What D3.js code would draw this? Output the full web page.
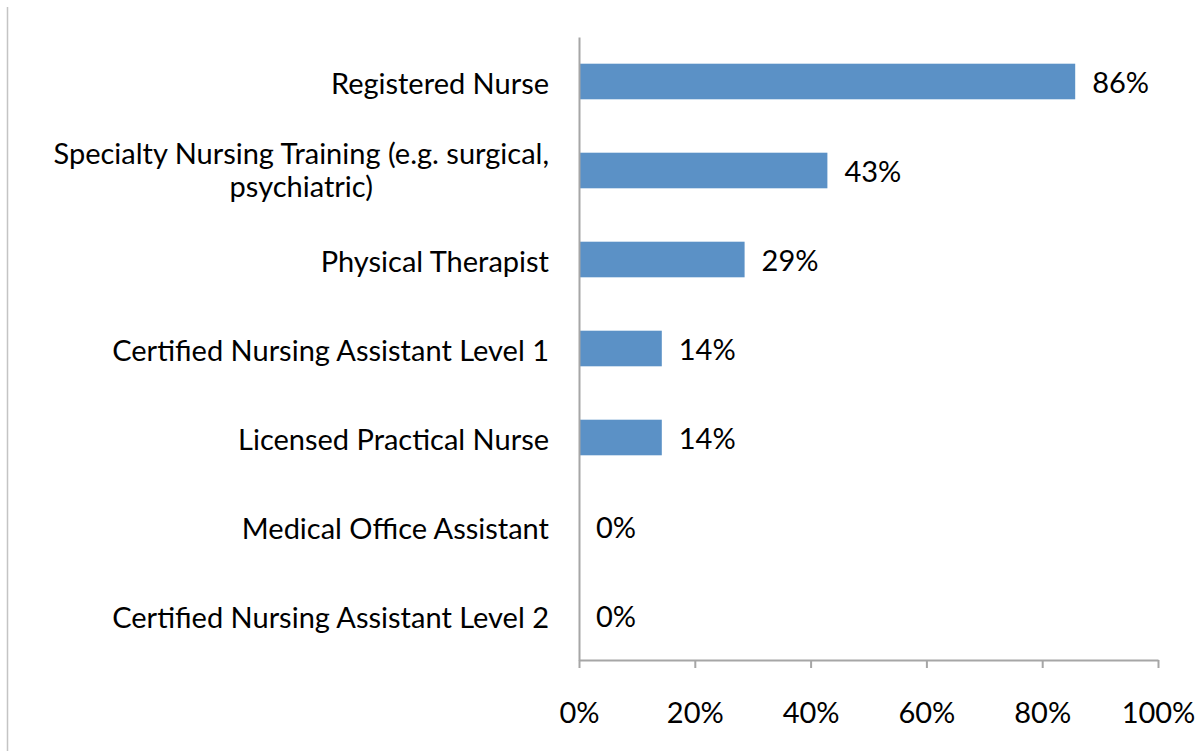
<!DOCTYPE html>
<html>
<head>
<meta charset="utf-8">
<script src="https://cdn.jsdelivr.net/npm/d3@7"></script>
<style>
  body { margin: 0; background: #fff; }
  svg { display: block; }
  text { font-family: Lato, "Open Sans", sans-serif; fill: #000; }
</style>
</head>
<body>
<svg id="chart"></svg>
<script>
// categories top to bottom, values are share of respondents (n = 7)
const categories = [
  "Registered Nurse",
  "Specialty Nursing Training (e.g. surgical,|psychiatric)",
  "Physical Therapist",
  "Certified Nursing Assistant Level 1",
  "Licensed Practical Nurse",
  "Medical Office Assistant",
  "Certified Nursing Assistant Level 2"
];
const values = [85.7, 42.9, 28.6, 14.3, 14.3, 0, 0];
const xTicks = [0, 20, 40, 60, 80, 100];

const W = 1198, H = 751;
const margin = { top: 37, right: 40, bottom: 91, left: 579 };
const fs = "29px";

const svg = d3.select("#chart").attr("width", W).attr("height", H);

// thin frame line on the left edge
svg.append("line")
  .attr("x1", 7.5).attr("x2", 7.5)
  .attr("y1", 7).attr("y2", H)
  .attr("stroke", "#c4c4c4").attr("stroke-width", 1.5);

const chart = svg.append("g")
  .attr("transform", `translate(${margin.left},${margin.top})`);

const innerW = 1158 - margin.left;
const innerH = 660 - margin.top;

const x = d3.scaleLinear().domain([0, 100]).range([0, innerW]);
const y = d3.scaleBand().domain(categories).range([0, innerH])
  .paddingInner(0.6).paddingOuter(0.3);

// bars
chart.selectAll(".bar")
  .data(categories)
  .join("rect")
  .attr("class", "bar")
  .attr("x", 0)
  .attr("y", d => y(d))
  .attr("width", (d, i) => x(values[i]))
  .attr("height", y.bandwidth())
  .attr("fill", "#5b91c6");

// value labels
chart.selectAll(".val")
  .data(categories)
  .join("text")
  .attr("class", "val")
  .attr("x", (d, i) => x(values[i]) + 17)
  .attr("y", d => y(d) + y.bandwidth() / 2)
  .attr("dy", "0.4em")
  .style("font-size", fs)
  .text((d, i) => Math.round(values[i]) + "%");

// x axis
const xaxis = d3.axisBottom(x)
  .tickValues(xTicks)
  .tickSize(8)
  .tickSizeOuter(0)
  .tickFormat(d => d + "%");
const xg = chart.append("g")
  .attr("transform", `translate(0,${innerH})`)
  .call(xaxis);
xg.select(".domain").attr("stroke", "#a6a6a6").attr("stroke-width", 2);
xg.selectAll(".tick line").attr("stroke", "#a6a6a6").attr("stroke-width", 2);
xg.selectAll(".tick text")
  .attr("y", 53)
  .attr("dy", "0.36em")
  .style("font-size", fs)
  .style("font-family", "Lato, 'Open Sans', sans-serif")
  .attr("fill", "#000");

// y axis line (no ticks)
const yaxis = d3.axisLeft(y).tickSize(0).tickPadding(30).tickFormat("");
const yg = chart.append("g").call(yaxis);
yg.select(".domain").attr("stroke", "#a6a6a6").attr("stroke-width", 2);

// category labels; wrapped ones are centred
yg.selectAll(".tick").each(function(d) {
  const parts = d.split("|");
  const t = d3.select(this).append("text")
    .attr("fill", "#000")
    .style("font-size", fs)
    .style("font-family", "Lato, 'Open Sans', sans-serif");
  if (parts.length === 1) {
    t.attr("x", -30).attr("dy", "0.44em").attr("text-anchor", "end").text(d);
  } else {
    // measure first line width to centre both lines under it
    t.attr("text-anchor", "middle");
    const tmp = t.append("tspan").text(parts[0]);
    const w = tmp.node().getComputedTextLength();
    tmp.remove();
    const cx = -30 - w / 2;
    parts.forEach((p, k) => {
      t.append("tspan")
        .attr("x", cx)
        .attr("y", 0)
        .attr("dy", (k === 0 ? -0.24 : 0.9) + "em")
        .text(p);
    });
  }
});
</script>
</body>
</html>
